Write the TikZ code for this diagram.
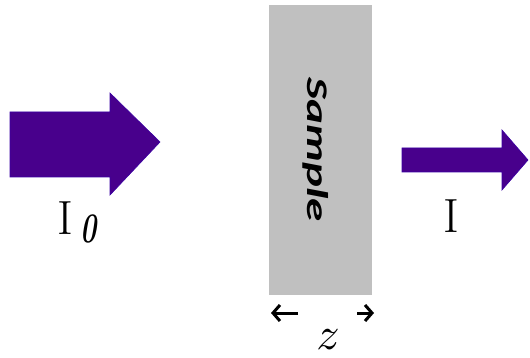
\documentclass[tikz,border=0pt]{standalone}
\usepackage{fontspec}
\newfontfamily\calib{Carlito}
\usetikzlibrary{arrows.meta}
\definecolor{beam}{RGB}{72,0,140}
\definecolor{slab}{RGB}{192,192,192}
\begin{document}
\begin{tikzpicture}[x=1pt,y=-1pt,
    beam_style/.style={fill=beam,draw=beam!80!blue,line width=0.6pt},
    label_style/.style={inner sep=0pt,font=\fontsize{48}{50}\selectfont},
    dim_style/.style={line width=3pt,-{Straight Barb[length=7pt,width=16pt,line width=3pt]}}]
    \useasboundingbox (0,0) rectangle (530,358);
    % incident beam
    \fill[beam_style] (10,112) -- (110,112) -- (110,93) -- (160,142) -- (110,195) -- (110,177) -- (10,177) -- cycle;
    % sample slab
    \fill[slab] (269,5) rectangle (372,295);
    \node[inner sep=0pt,rotate=-90,font=\calib\bfseries\itshape\fontsize{30}{32}\selectfont] (sample) at (316,150) {\scalebox{1.57}[1]{Sample}};
    % transmitted beam
    \fill[beam_style] (402,148) -- (502,148) -- (502,130) -- (528,160) -- (502,190) -- (502,172) -- (402,172) -- cycle;
    % labels
    \node[label_style] (i0) at (65,218) {I};
    \node[inner sep=0pt,font=\bfseries\itshape\fontsize{42}{44}\selectfont] (zero) at (89,229) {\scalebox{0.65}[1]{0}};
    \node[label_style] (i) at (451,216) {I};
    % thickness marks
    \coordinate (zl0) at (298,313);
    \coordinate (zl1) at (271,313);
    \coordinate (zr0) at (357,313);
    \coordinate (zr1) at (374,313);
    \draw[dim_style] (zl0) -- (zl1);
    \draw[dim_style] (zr0) -- (zr1);
    \node[inner sep=0pt] (z) at (328,340) {\scalebox{4.6}{$z$}};
\end{tikzpicture}
\end{document}
